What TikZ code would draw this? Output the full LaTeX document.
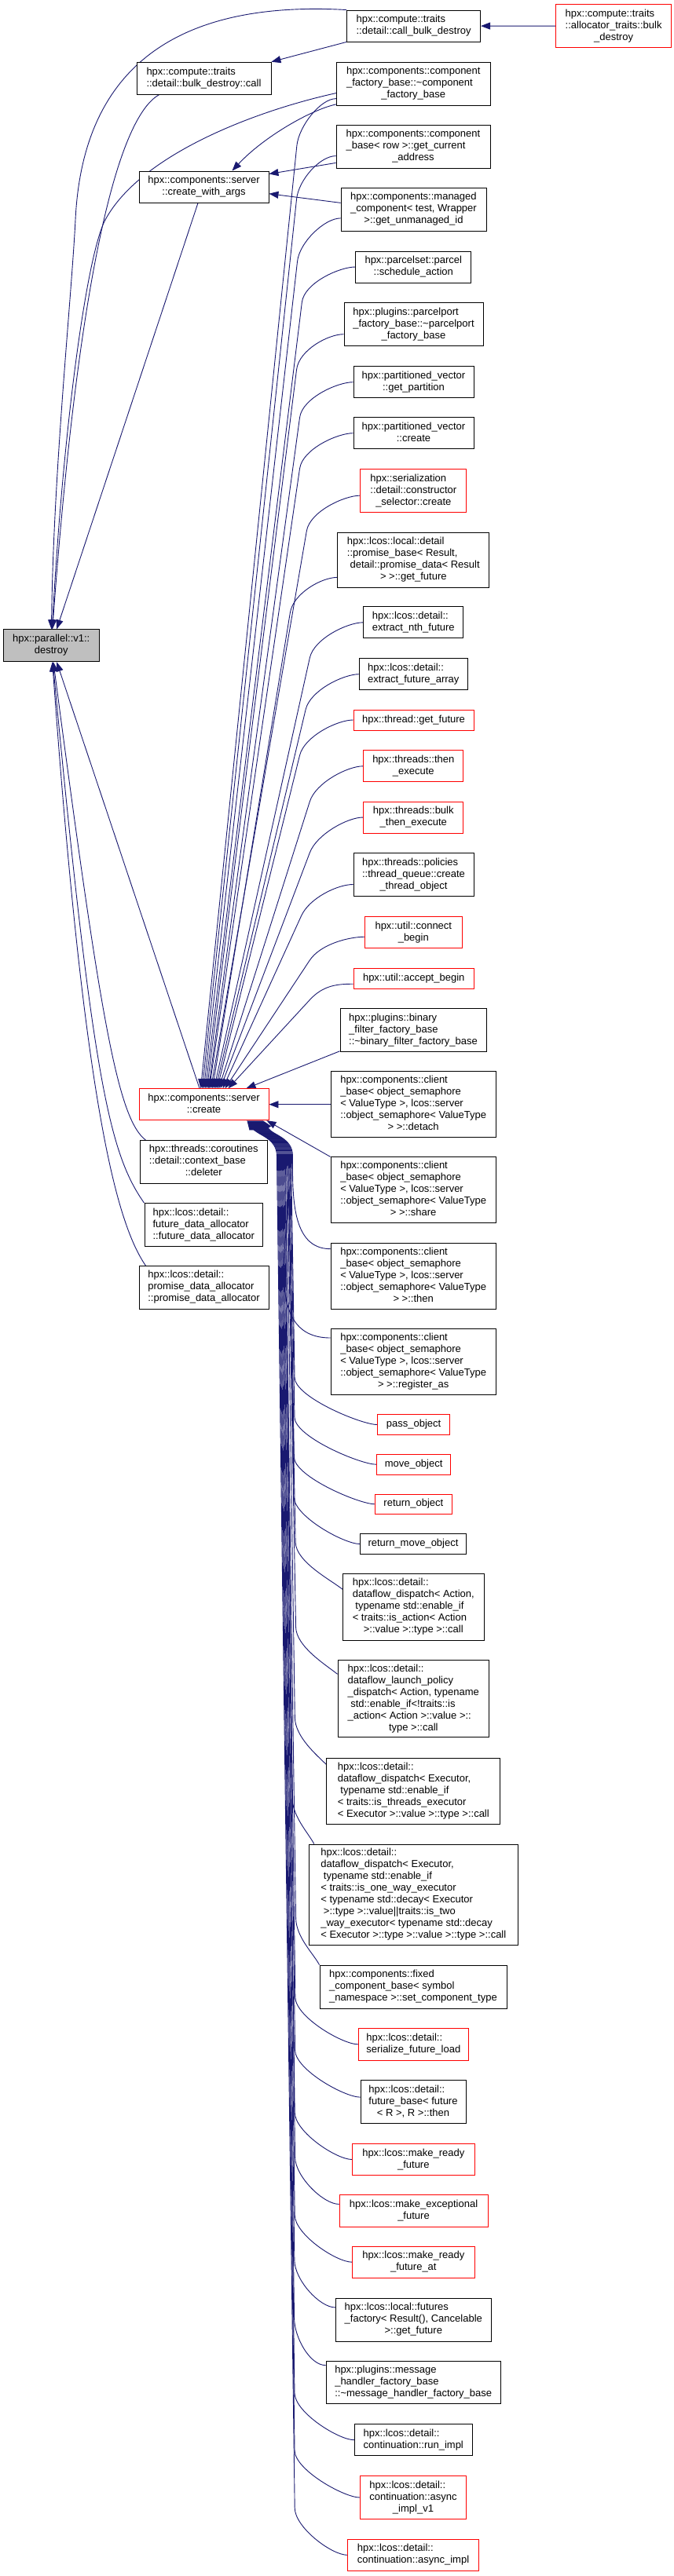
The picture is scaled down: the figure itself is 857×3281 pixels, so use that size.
\documentclass[tikz,border=0pt]{standalone}
\usepackage{fontspec}
\setmainfont{Liberation Sans}
\usetikzlibrary{arrows.meta,calc}
\definecolor{midnight}{HTML}{191970}
\definecolor{greyf}{HTML}{BFBFBF}
\pgfdeclarelayer{background}
\pgfsetlayers{background,main}
\newcommand\lastc[1]{\multicolumn{1}{@{}c@{}}{#1}}
\newcommand\lbl[1]{\begin{tabular}{@{}l@{}}#1\end{tabular}}
% edge from a node above server::create into its top side
\newcommand\upedge[5]{%
  \coordinate (ub) at ($(#1.#2)+(#3,-#4)$);
  \coordinate (ut) at ($(create.north)+(#5,0)$);
  \draw[calls] (#1.#2) .. controls ($(#1.#2)+(-20,0)$) and ($(ub)!-25pt!(ut)$) .. (ub) -- (ut);}
% edge from a node below server::create into its bottom side
\newcommand\dnedge[7]{%
  \coordinate (db) at ($(#1.#2)+(#3,#4)$);
  \coordinate (dm) at ($(create.south east)+(#5,-45)$);
  \coordinate (dt) at ($(create.south east)+(#6,0)$);
  \draw[calls] (#1.#2) .. controls ($(#1.#2)+(#7)$) and ($(db)!-25pt!(dm)$) .. (db) -- (dm) to[out=90,in=-55] (dt);}
\newcommand\dnnear[4]{%
  \coordinate (dm) at ($(create.south east)+(#3,-45)$);
  \coordinate (dt) at ($(create.south east)+(#4,0)$);
  \draw[calls] (#1.#2) to[out=180,in=-90] (dm) to[out=90,in=-55] (dt);}
\begin{document}
\begin{tikzpicture}[x=1pt,y=1pt,
  nd/.style={draw=black, fill=white, line width=0.9pt, inner sep=0pt,
    font=\fontsize{13pt}{15pt}\selectfont},
  rd/.style={draw=red},
  calls/.style={draw=midnight, line width=0.9pt, -{Triangle[length=12pt,width=9pt]}}]
\useasboundingbox (0,0) rectangle (857,-3281);

% ---------------- nodes ----------------
\node[nd,rd,minimum width=147pt,minimum height=55pt] (abd) at (781.1,-33.2) {\lbl{hpx::compute::traits\\::allocator\_traits::bulk\\\lastc{\_destroy}}};
\node[nd,minimum width=170pt,minimum height=40pt] (cbd) at (526.6,-33) {\lbl{hpx::compute::traits\\\lastc{::detail::call\_bulk\_destroy}}};
\node[nd,minimum width=171pt,minimum height=41pt] (bdc) at (259.5,-99.7) {\lbl{hpx::compute::traits\\\lastc{::detail::bulk\_destroy::call}}};
\node[nd,minimum width=196pt,minimum height=55pt] (cfb) at (526.3,-106.5) {\lbl{hpx::components::component\\\_factory\_base::\textasciitilde component\\\lastc{\_factory\_base}}};
\node[nd,minimum width=196pt,minimum height=55pt] (cbr) at (526,-186.5) {\lbl{hpx::components::component\\\_base< row >::get\_current\\\lastc{\_address}}};
\node[nd,minimum width=165pt,minimum height=40pt] (cwa) at (259.5,-238) {\lbl{hpx::components::server\\\lastc{::create\_with\_args}}};
\node[nd,minimum width=185pt,minimum height=55pt] (mc) at (526.5,-266.5) {\lbl{hpx::components::managed\\\_component< test, Wrapper\\\lastc{>::get\_unmanaged\_id}}};
\node[nd,minimum width=147pt,minimum height=40pt] (sa) at (526.3,-340) {\lbl{hpx::parcelset::parcel\\\lastc{::schedule\_action}}};
\node[nd,minimum width=177pt,minimum height=55pt] (ppf) at (526.5,-413.2) {\lbl{hpx::plugins::parcelport\\\_factory\_base::\textasciitilde parcelport\\\lastc{\_factory\_base}}};
\node[nd,minimum width=153pt,minimum height=40pt] (gp) at (526.5,-486.7) {\lbl{hpx::partitioned\_vector\\\lastc{::get\_partition}}};
\node[nd,minimum width=153pt,minimum height=40pt] (pvc) at (526.5,-551.7) {\lbl{hpx::partitioned\_vector\\\lastc{::create}}};
\node[nd,rd,minimum width=135pt,minimum height=55pt] (cs) at (526.3,-625.2) {\lbl{hpx::serialization\\::detail::constructor\\\lastc{\_selector::create}}};
\node[nd,minimum width=193pt,minimum height=70pt] (pb) at (526.3,-713) {\lbl{hpx::lcos::local::detail\\::promise\_base< Result,\\\ detail::promise\_data< Result\\\lastc{> >::get\_future}}};
\node[nd,minimum width=127pt,minimum height=40pt] (enf) at (526.3,-792.8) {\lbl{hpx::lcos::detail::\\\lastc{extract\_nth\_future}}};
\node[nd,fill=greyf,minimum width=122pt,minimum height=41pt] (destroy) at (65.2,-822.3) {\lbl{hpx::parallel::v1::\\\lastc{destroy}}};
\node[nd,minimum width=137.5pt,minimum height=40pt] (efa) at (526.3,-858.7) {\lbl{hpx::lcos::detail::\\\lastc{extract\_future\_array}}};
\node[nd,rd,minimum width=153pt,minimum height=26pt] (tgf) at (526.5,-917) {\lbl{hpx::thread::get\_future}};
\node[nd,rd,minimum width=127pt,minimum height=40pt] (te) at (526.3,-975.8) {\lbl{hpx::threads::then\\\lastc{\_execute}}};
\node[nd,rd,minimum width=127pt,minimum height=40pt] (bte) at (526.3,-1041) {\lbl{hpx::threads::bulk\\\lastc{\_then\_execute}}};
\node[nd,minimum width=153pt,minimum height=55pt] (tq) at (526.5,-1114.3) {\lbl{hpx::threads::policies\\::thread\_queue::create\\\lastc{\_thread\_object}}};
\node[nd,rd,minimum width=123.4pt,minimum height=40pt] (cb) at (526.3,-1187.8) {\lbl{hpx::util::connect\\\lastc{\_begin}}};
\node[nd,rd,minimum width=153.4pt,minimum height=26pt] (ab) at (526.7,-1246.5) {\lbl{hpx::util::accept\_begin}};
\node[nd,minimum width=186pt,minimum height=55pt] (bff) at (526,-1312) {\lbl{hpx::plugins::binary\\\_filter\_factory\_base\\\lastc{::\textasciitilde binary\_filter\_factory\_base}}};
\node[nd,rd,minimum width=165pt,minimum height=40pt] (create) at (259.5,-1406.7) {\lbl{hpx::components::server\\\lastc{::create}}};
\node[nd,minimum width=210.4pt,minimum height=84pt] (det) at (526.2,-1406.7) {\lbl{hpx::components::client\\\_base< object\_semaphore\\< ValueType >, lcos::server\\::object\_semaphore< ValueType\\\lastc{> >::detach}}};
\node[nd,minimum width=162.6pt,minimum height=54.3pt] (del) at (259.3,-1479.8) {\lbl{hpx::threads::coroutines\\::detail::context\_base\\\lastc{::deleter}}};
\node[nd,minimum width=210.4pt,minimum height=84pt] (sh) at (526.2,-1515.8) {\lbl{hpx::components::client\\\_base< object\_semaphore\\< ValueType >, lcos::server\\::object\_semaphore< ValueType\\\lastc{> >::share}}};
\node[nd,minimum width=150.6pt,minimum height=54.6pt] (fda) at (259.3,-1560) {\lbl{hpx::lcos::detail::\\future\_data\_allocator\\\lastc{::future\_data\_allocator}}};
\node[nd,minimum width=210.4pt,minimum height=84pt] (th) at (526.2,-1625) {\lbl{hpx::components::client\\\_base< object\_semaphore\\< ValueType >, lcos::server\\::object\_semaphore< ValueType\\\lastc{> >::then}}};
\node[nd,minimum width=165pt,minimum height=54.3pt] (pda) at (259.5,-1639.8) {\lbl{hpx::lcos::detail::\\promise\_data\_allocator\\\lastc{::promise\_data\_allocator}}};
\node[nd,minimum width=210.4pt,minimum height=84pt] (ra) at (526.2,-1734.3) {\lbl{hpx::components::client\\\_base< object\_semaphore\\< ValueType >, lcos::server\\::object\_semaphore< ValueType\\\lastc{> >::register\_as}}};
\node[nd,rd,minimum width=92.2pt,minimum height=25.6pt] (po) at (526.6,-1814.5) {\lbl{pass\_object}};
\node[nd,rd,minimum width=94.4pt,minimum height=25.7pt] (mo) at (526.6,-1865.2) {\lbl{move\_object}};
\node[nd,rd,minimum width=97.2pt,minimum height=25.7pt] (ro) at (526.4,-1915.8) {\lbl{return\_object}};
\node[nd,minimum width=135pt,minimum height=25.6pt] (rmo) at (526,-1966.5) {\lbl{return\_move\_object}};
\node[nd,minimum width=179.4pt,minimum height=84.3pt] (dfa) at (526.3,-2046.8) {\lbl{hpx::lcos::detail::\\dataflow\_dispatch< Action,\\\ typename std::enable\_if\\< traits::is\_action< Action\\\lastc{>::value >::type >::call}}};
\node[nd,minimum width=192.6pt,minimum height=98pt] (dlp) at (526.3,-2163.7) {\lbl{hpx::lcos::detail::\\dataflow\_launch\_policy\\\_dispatch< Action, typename\\\ std::enable\_if<!traits::is\\\_action< Action >::value >::\\\lastc{type >::call}}};
\node[nd,minimum width=221pt,minimum height=84pt] (dthr) at (526.3,-2281.3) {\lbl{hpx::lcos::detail::\\dataflow\_dispatch< Executor,\\\ typename std::enable\_if\\< traits::is\_threads\_executor\\\lastc{< Executor >::value >::type >::call}}};
\node[nd,minimum width=266pt,minimum height=128pt] (dow) at (526.3,-2413) {\lbl{hpx::lcos::detail::\\dataflow\_dispatch< Executor,\\\ typename std::enable\_if\\< traits::is\_one\_way\_executor\\< typename std::decay< Executor\\\ >::type >::value||traits::is\_two\\\_way\_executor< typename std::decay\\\lastc{< Executor >::type >::value >::type >::call}}};
\node[nd,minimum width=238pt,minimum height=55pt] (fcb) at (526,-2530.5) {\lbl{hpx::components::fixed\\\_component\_base< symbol\\\lastc{\_namespace >::set\_component\_type}}};
\node[nd,rd,minimum width=140pt,minimum height=40.3pt] (sfl) at (526.3,-2603.8) {\lbl{hpx::lcos::detail::\\\lastc{serialize\_future\_load}}};
\node[nd,minimum width=134pt,minimum height=55.4pt] (fbt) at (526,-2677) {\lbl{hpx::lcos::detail::\\future\_base< future\\\lastc{< R >, R >::then}}};
\node[nd,rd,minimum width=155.3pt,minimum height=40.4pt] (mrf) at (526.3,-2750.5) {\lbl{hpx::lcos::make\_ready\\\lastc{\_future}}};
\node[nd,rd,minimum width=189pt,minimum height=40.7pt] (mef) at (526.5,-2815.7) {\lbl{hpx::lcos::make\_exceptional\\\lastc{\_future}}};
\node[nd,rd,minimum width=155.3pt,minimum height=40.3pt] (mrfa) at (526.3,-2881.2) {\lbl{hpx::lcos::make\_ready\\\lastc{\_future\_at}}};
\node[nd,minimum width=198pt,minimum height=54.7pt] (ff) at (526.3,-2954.7) {\lbl{hpx::lcos::local::futures\\\_factory< Result(), Cancelable\\\lastc{>::get\_future}}};
\node[nd,minimum width=222.4pt,minimum height=54.7pt] (mh) at (526.2,-3034.3) {\lbl{hpx::plugins::message\\\_handler\_factory\_base\\\lastc{::\textasciitilde message\_handler\_factory\_base}}};
\node[nd,minimum width=149.8pt,minimum height=40pt] (ri) at (526.3,-3107.7) {\lbl{hpx::lcos::detail::\\\lastc{continuation::run\_impl}}};
\node[nd,rd,minimum width=135pt,minimum height=54.6pt] (av1) at (526,-3181) {\lbl{hpx::lcos::detail::\\continuation::async\\\lastc{\_impl\_v1}}};
\node[nd,rd,minimum width=166.7pt,minimum height=40pt] (ai) at (526,-3254.3) {\lbl{hpx::lcos::detail::\\\lastc{continuation::async\_impl}}};

% ---------------- connectors ----------------
\begin{pgfonlayer}{background}
\fill[white] (0,0) rectangle (857,-3281);
\draw[calls] (abd) -- (cbd);
\draw[calls] (cbd.south west) -- (bdc.north east);
% into destroy
\draw[calls] (cbd.north west) .. controls (220,0) and (105,-90) .. (96,-280) .. controls (91,-380) and (68,-600) .. (destroy);
\draw[calls] ($(bdc.south west)+(29,0)$) .. controls (150,-150) and (100,-350) .. (destroy);
\draw[calls] (cfb.187) .. controls (330,-140) and (180,-195) .. (134,-280) .. controls (110,-325) and (80,-550) .. (destroy);
\draw[calls] (cwa.250) -- (destroy);
\draw[calls] (create.105) -- (destroy);
\draw[calls] ($(del.north west)+(8,0)$) .. controls (150,-1425) and (128,-1300) .. (destroy);
\draw[calls] (fda.north west) .. controls (140,-1470) and (118,-1380) .. (destroy);
\draw[calls] ($(pda.north west)+(9,0)$) .. controls (150,-1560) and (108,-1420) .. (destroy);
% into create_with_args
\draw[calls] (cfb.195) .. controls (395,-140) and (335,-175) .. ($(cwa.north)+(36,0)$);
\draw[calls] (cbr.192) -- ($(cwa.north east)+(0,-4)$);
\draw[calls] (mc.175) -- (cwa.354);
% into server::create from above
\upedge{cfb}{191}{-50}{60}{-4}
\upedge{cbr}{187}{-50}{55}{-2}
\upedge{mc}{187}{-55}{55}{0}
\upedge{sa}{west}{-68}{45}{2}
\upedge{ppf}{188}{-60}{45}{4}
\upedge{gp}{west}{-68}{45}{6}
\upedge{pvc}{west}{-68}{45}{7}
\upedge{cs}{185}{-68}{45}{9}
\upedge{pb}{193}{-60}{45}{11}
\upedge{enf}{west}{-68}{45}{13}
\upedge{efa}{west}{-68}{45}{15}
\upedge{tgf}{west}{-68}{45}{17}
\upedge{te}{west}{-68}{45}{19}
\upedge{bte}{west}{-68}{45}{21}
\upedge{tq}{189}{-66}{40}{24}
\upedge{cb}{185}{-70}{30}{27}
\upedge{ab}{185}{-55}{20}{31}
\draw[calls] (bff.196) -- ($(create.north)+(54,0)$);
% into server::create from the right and below
\draw[calls] (det) -- (create);
\draw[calls] (sh.north west) -- ($(create.south east)+(-3,0)$);
\dnnear{th}{162}{30}{-8}
\dnnear{ra}{164}{29}{-9}
\dnedge{po}{west}{-105}{60}{28}{-10}{-20,0}
\dnedge{mo}{west}{-104}{60}{27}{-11}{-20,0}
\dnedge{ro}{west}{-103}{60}{26}{-12}{-20,0}
\dnedge{rmo}{west}{-84}{60}{25}{-13}{-20,0}
\dnedge{dfa}{166}{-60}{60}{24}{-14}{-15,12}
\dnedge{dlp}{162}{-53}{60}{23}{-15}{-15,12}
\dnedge{dthr}{163}{-40}{60}{22}{-16}{-12,12}
\dnedge{dow}{153}{-28}{60}{21}{-17}{-8,15}
\dnedge{fcb}{north west}{-30}{60}{20}{-18}{-8,15}
\dnedge{sfl}{west}{-80}{60}{19}{-19}{-20,0}
\dnedge{fbt}{175}{-83}{60}{18}{-20}{-20,0}
\dnedge{mrf}{west}{-73}{60}{17}{-21}{-20,0}
\dnedge{mef}{175}{-56}{60}{16}{-22}{-20,0}
\dnedge{mrfa}{west}{-73}{60}{15}{-23}{-20,0}
\dnedge{ff}{171}{-52}{60}{14}{-24}{-20,0}
\dnedge{mh}{169}{-40}{60}{13}{-25}{-20,0}
\dnedge{ri}{west}{-76}{60}{12}{-26}{-20,0}
\dnedge{av1}{west}{-83}{60}{11}{-27}{-20,0}
\dnedge{ai}{west}{-67}{60}{10}{-28}{-20,0}
\end{pgfonlayer}
\end{tikzpicture}
\end{document}
